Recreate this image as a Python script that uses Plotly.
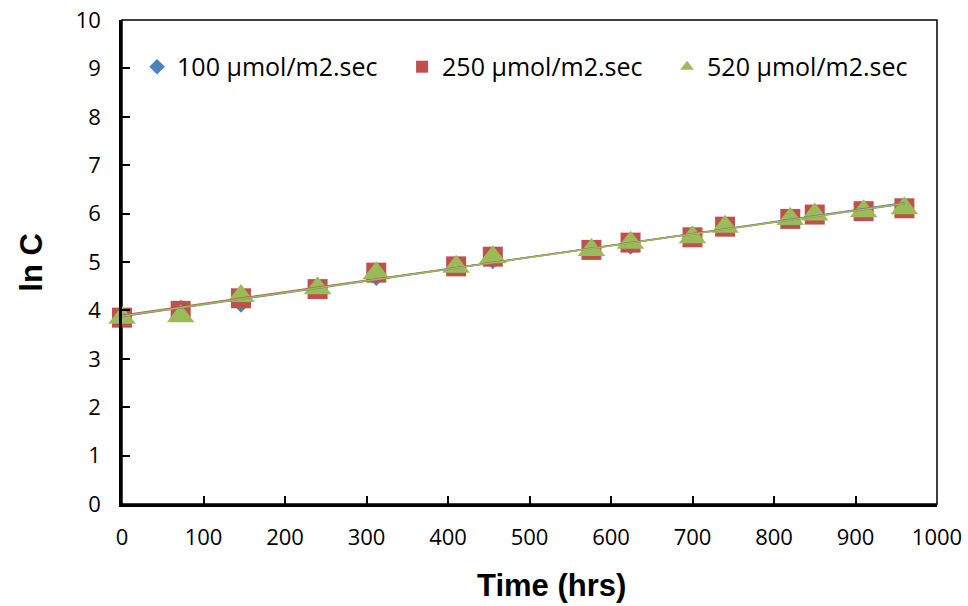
import numpy as np
import plotly.graph_objects as go

# Sampling times (hrs)
time_hrs = [0, 72, 146, 240, 312, 410, 455, 576, 624, 700, 740, 820, 850, 910, 960]

# ln C for each light intensity
ln_c_100 = [3.88, 4.07, 4.10, 4.50, 4.65, 4.95, 5.00, 5.30, 5.30, 5.57, 5.77, 5.93, 6.02, 6.07, 6.12]
ln_c_250 = [3.85, 3.99, 4.25, 4.44, 4.78, 4.91, 5.11, 5.25, 5.40, 5.51, 5.73, 5.89, 5.98, 6.05, 6.11]
ln_c_520 = [3.85, 3.88, 4.30, 4.46, 4.77, 4.90, 5.10, 5.25, 5.40, 5.51, 5.73, 5.89, 5.98, 6.05, 6.11]

series_names = ["100 µmol/m2.sec", "250 µmol/m2.sec", "520 µmol/m2.sec"]
series_values = [ln_c_100, ln_c_250, ln_c_520]
colors = ["#4F81BD", "#C0504D", "#9BBB59"]
symbols = ["diamond", "square", "triangle-up"]
sizes = [11, 20, 24]

tick_font = dict(family="Open Sans", size=22, color="black")
title_font = dict(family="Liberation Sans", size=31, color="black")

fig = go.Figure()

# Markers
for name, vals, col, sym, sz in zip(series_names, series_values, colors, symbols, sizes):
    fig.add_trace(go.Scatter(
        x=time_hrs, y=vals, mode="markers", name=name, cliponaxis=False,
        marker=dict(symbol=sym, size=sz, color=col, line=dict(width=0)),
    ))

# Linear trendlines, one per series, drawn over the markers
t = np.array(time_hrs, dtype=float)
t_fit = np.array([t.min(), t.max()])
for vals, col in zip(series_values, colors):
    slope, intercept = np.polyfit(t, np.array(vals), 1)
    fig.add_trace(go.Scatter(
        x=t_fit, y=slope * t_fit + intercept, mode="lines", cliponaxis=False,
        line=dict(color=col, width=1.6), showlegend=False, hoverinfo="skip",
    ))

axis_common = dict(
    showgrid=False, zeroline=False, automargin=False,
    showline=True, linecolor="black", linewidth=2.5,
    ticks="inside", ticklen=8, tickwidth=1.5, tickcolor="black",
    tickfont=tick_font,
)

fig.update_xaxes(range=[0, 1000], dtick=100, tick0=0, ticklabelstandoff=12, **axis_common)
fig.update_yaxes(range=[0, 10], dtick=1, tick0=0, ticklabelstandoff=14, **axis_common)

# Thin frame around the plotting area
fig.add_shape(type="rect", xref="paper", yref="paper", x0=0, y0=0, x1=1, y1=1,
              line=dict(color="black", width=1.5), layer="below")

fig.add_annotation(text="<b>Time (hrs)</b>", xref="paper", yref="paper",
                   x=0.527, y=-0.168, xanchor="center", yanchor="middle",
                   showarrow=False, font=title_font)
fig.add_annotation(text="<b>ln C</b>", xref="paper", yref="paper",
                   x=-0.112, y=0.5, xanchor="center", yanchor="middle",
                   textangle=-90, showarrow=False, font=title_font)

fig.update_layout(
    width=968, height=606,
    margin=dict(l=122, r=31, t=20, b=102, autoexpand=False),
    paper_bgcolor="white", plot_bgcolor="white",
    showlegend=True,
    legend=dict(
        orientation="h", x=0.0185, y=0.903, xanchor="left", yanchor="middle",
        font=dict(family="Open Sans", size=25, color="black"),
        itemsizing="constant", entrywidth=220, entrywidthmode="pixels",
        bgcolor="rgba(0,0,0,0)", traceorder="normal",
    ),
)

fig.write_html("out.html")
